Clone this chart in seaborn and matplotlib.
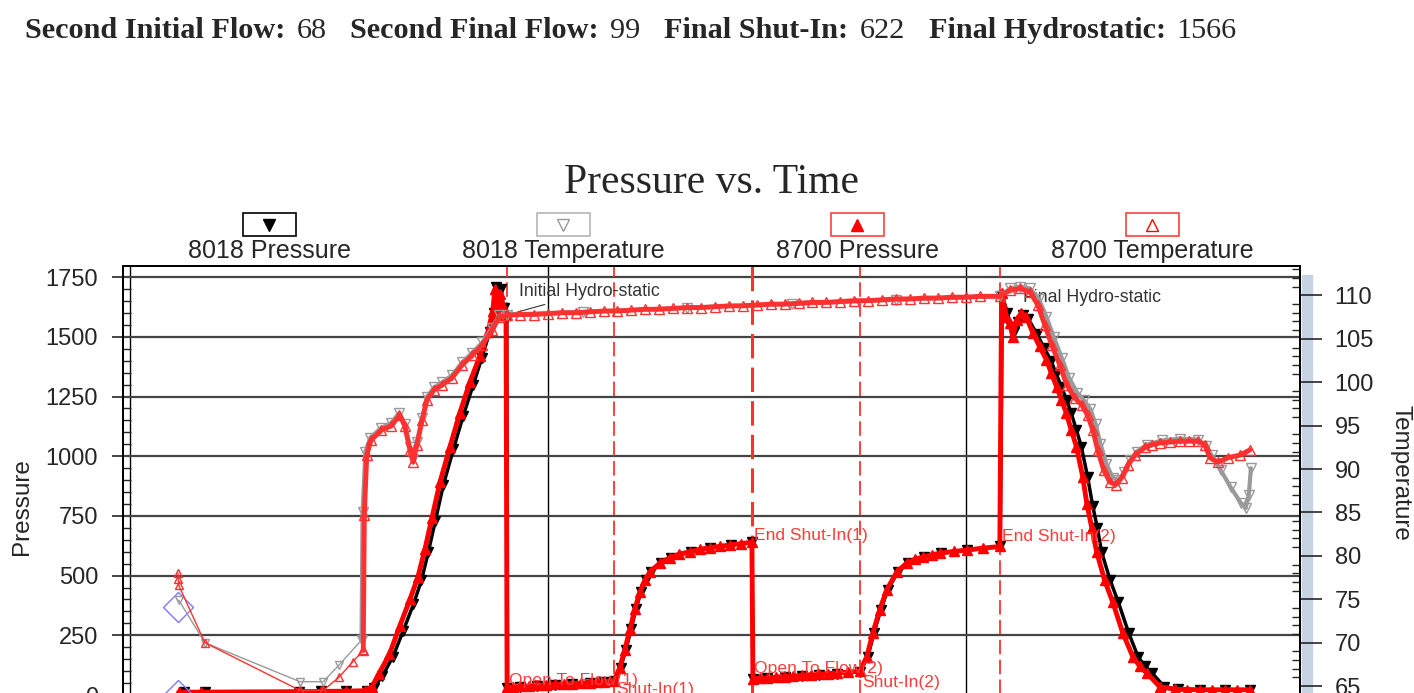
import matplotlib
matplotlib.use("Agg")
import matplotlib.pyplot as plt
from matplotlib.patches import Rectangle
from matplotlib.lines import Line2D
from matplotlib.ticker import MultipleLocator
import pandas as pd
import seaborn as sns

#######################
#        Data         #
#######################
# time in minutes, pressure in psi, temperature in deg F
header_items = [("Second Initial Flow:", 68), ("Second Final Flow:", 99),
                ("Final Shut-In:", 622), ("Final Hydrostatic:", 1566)]

p8700_t = [14.0, 20.5, 48.5, 55.0, 62.0, 67.5,
           69.5, 71.5, 74.5, 77.5, 80.4, 82.7, 84.7, 86.7, 89.0, 91.9, 94.7, 97.6, 100.5, 102.8,
           104.2, 104.8, 105.7, 106.2, 107.0, 108.0,
           108.3, 110.0, 112.0, 114.5, 117.0, 119.5, 122.0, 124.5, 127.0, 129.5, 132.0, 134.0,
           136.0, 139.0,
           140.7, 142.1, 143.6, 145.0, 146.4, 147.9, 149.3, 152.2, 155.0, 157.8, 160.8, 163.6,
           166.5, 169.4, 172.3, 175.5, 178.6,
           178.9, 181.0, 183.0, 185.5, 188.0, 190.5, 193.0, 195.5, 198.0, 200.5, 203.0, 206.3, 209.6,
           211.6, 213.3, 215.3, 217.3, 220.2, 223.1, 225.4, 227.7, 230.2, 232.6, 236.5, 240.3,
           245.0, 249.8,
           250.3, 251.7, 252.7, 253.5, 254.6, 256.0, 257.4, 259.3, 261.2, 263.2, 264.6, 266.1,
           267.5, 268.9, 270.3, 271.8, 273.6, 274.8, 276.2, 277.6, 279.9, 282.2, 285.1, 288.0,
           290.0, 292.0, 295.7, 300.0, 303.6, 307.2, 310.8, 314.4, 318.0, 321.6]
p8700_p = [12, 12, 14, 15, 16, 18,
           35, 90, 170, 290, 400, 495, 610, 740, 890, 1040, 1180, 1310, 1420, 1520,
           1610, 1700, 1590, 1680, 1630, 1590,
           32, 34, 36, 38, 40, 42, 44, 46, 48, 50, 52, 54,
           56, 60,
           115, 190, 275, 360, 430, 480, 515, 553, 575, 590, 600, 610,
           617, 623, 628, 634, 640,
           68, 70, 72, 75, 77, 80, 82, 85, 87, 90, 92, 96, 99,
           160, 258, 356, 440, 515, 553, 568, 578, 587, 594, 601, 607,
           615, 622,
           1683, 1584, 1557, 1500, 1570, 1600, 1583, 1516, 1460, 1403, 1347, 1291,
           1236, 1180, 1110, 1040, 914, 800, 700, 600, 480, 390, 260, 160,
           120, 92, 35, 24, 23, 22, 22, 22, 22, 22]

p8018_t = [15.5, 21.5, 48.5, 55.0, 62.0, 68.0,
           70.0, 72.5, 75.5, 78.5, 81.4, 83.7, 85.7, 87.7, 90.0, 92.9, 95.7, 98.6, 101.0, 103.3,
           104.5, 105.0, 105.9, 106.6, 107.3, 108.2,
           108.4, 112.0, 117.0, 122.0, 127.0, 132.0, 136.0, 139.0,
           140.9, 142.4, 143.9, 145.3, 146.7, 148.2, 149.6, 152.5, 155.3, 161.0, 166.7, 172.5, 178.6,
           178.9, 183.0, 188.0, 193.0, 198.0, 203.0, 209.6,
           211.9, 213.6, 215.6, 217.6, 220.5, 223.4, 228.0, 232.9, 240.5, 249.9,
           250.5, 252.0, 253.0, 254.0, 255.0, 256.5, 258.0, 260.5, 262.5, 264.5, 266.0, 267.5,
           269.0, 270.3, 271.8, 273.2, 275.0, 276.5, 277.8, 279.0, 281.5, 283.8, 286.8, 289.5,
           291.5, 293.5, 297.0, 301.0, 307.2, 314.4, 321.6]
p8018_p = [12, 12, 14, 15, 16, 18,
           30, 80, 160, 270, 380, 480, 600, 730, 880, 1030, 1170, 1300, 1410, 1520,
           1600, 1710, 1620, 1700, 1620, 1585,
           30, 34, 38, 42, 46, 50, 54, 58,
           115, 190, 275, 360, 430, 480, 515, 553, 575, 600, 617, 628, 640,
           66, 70, 75, 80, 85, 90, 97,
           160, 258, 356, 440, 515, 553, 578, 594, 607, 622,
           1670, 1600, 1540, 1520, 1560, 1590, 1575, 1510, 1455, 1400, 1345, 1290,
           1235, 1180, 1110, 1040, 914, 790, 700, 600, 480, 390, 260, 160,
           120, 92, 35, 24, 22, 22, 22]

# temperature, pre-run part (sparse) and in-hole part (dense)
t8700_pre_t = [13.8, 13.9, 14.0, 21.5, 48.8, 55.5, 60.0, 64.0, 67.0]
t8700_pre_v = [78.0, 77.3, 76.6, 70.0, 64.5, 64.5, 66.0, 67.8, 69.1]
t8700_t = [67.0, 67.3, 68.0, 69.2, 72.2, 75.1, 77.4, 78.9, 80.4, 81.3, 82.4, 83.9, 85.3, 87.3,
           89.7, 92.5, 95.4, 98.3, 101.2, 104.0, 106.0, 108.3,
           112.0, 116.0, 120.0, 124.0, 128.0, 132.0, 136.0, 140.0, 144.0, 148.0, 152.0, 156.0,
           160.0, 164.0, 168.0, 172.0, 176.0, 180.0, 184.0, 188.0, 192.0, 196.0, 200.0, 204.0,
           208.0, 212.0, 216.0, 220.0, 224.0, 228.0, 232.0, 236.0, 240.0, 244.0, 249.8,
           252.7, 255.6, 258.4, 260.7, 262.7, 264.7, 267.0, 269.0, 271.3, 273.3, 275.0, 276.5,
           277.9, 279.6, 281.4, 283.1, 284.8, 286.6, 288.6, 291.5, 293.6, 295.8, 298.6, 301.5,
           304.1, 306.7, 308.7, 310.1, 312.4, 315.3, 318.7, 321.6]
t8700_v = [69.1, 84.7, 91.6, 93.3, 94.5, 95.0, 96.2, 95.0, 92.2, 90.8, 92.8, 95.6, 98.0, 99.1,
           99.7, 100.5, 102.0, 103.1, 104.3, 106.0, 107.5, 107.7,
           107.8, 107.8, 107.9, 108.0, 108.0, 108.1, 108.2, 108.2, 108.3, 108.4, 108.4, 108.5,
           108.6, 108.6, 108.7, 108.8, 108.8, 108.9, 109.0, 109.0, 109.1, 109.2, 109.2, 109.3,
           109.4, 109.4, 109.5, 109.6, 109.6, 109.7, 109.7, 109.8, 109.8, 109.9, 109.9,
           110.6, 110.8, 110.4, 108.9, 106.6, 104.3, 102.0, 99.7, 98.2, 97.4, 96.2, 94.5,
           92.2, 89.9, 88.5, 88.2, 89.0, 90.5, 91.6, 92.5, 92.8, 93.0, 93.1, 93.2,
           93.2, 93.2, 92.8, 91.3, 90.8, 91.3, 91.6, 92.2]

t8018_pre_t = [14.0, 21.5, 48.8, 55.5, 60.0, 66.5]
t8018_pre_v = [74.9, 70.0, 65.5, 65.5, 67.4, 70.3]
t8018_t = [66.5, 66.8, 67.6, 69.0, 72.0, 75.0, 77.2, 78.9, 80.4, 81.3, 82.4, 83.9, 85.3, 87.3,
           89.7, 92.5, 95.4, 98.3, 101.2, 104.0, 106.0, 108.3,
           130.0, 160.0, 190.0, 220.0, 249.8,
           252.7, 255.6, 258.4, 261.0, 263.2, 265.3, 267.6, 269.7, 272.0, 274.0, 275.8, 277.3,
           278.7, 280.4, 282.2, 283.8, 285.5, 287.2, 289.1, 292.0, 296.3, 301.5, 306.7, 309.0,
           310.6, 313.2, 316.1, 319.0, 320.4, 321.3, 321.9]
t8018_v = [70.3, 85.0, 92.0, 93.6, 94.7, 95.3, 96.4, 95.2, 92.5, 91.2, 93.1, 95.9, 98.3, 99.4,
           100.0, 100.8, 102.3, 103.4, 104.6, 106.3, 107.7, 107.8,
           108.1, 108.6, 109.0, 109.5, 109.9,
           110.8, 111.0, 110.8, 109.6, 107.5, 105.2, 102.8, 100.5, 98.8, 97.9, 96.9, 95.2,
           92.9, 90.6, 89.0, 88.7, 89.6, 91.0, 92.0, 92.8, 93.3, 93.5, 93.4, 92.6,
           91.6, 89.9, 87.9, 86.1, 85.5, 87.0, 90.1]

marker_t = [13.8, 13.8]
marker_p = [370, 0]

events = [("Open To Flow(1)", 108.3, 28, "bottom"), ("Shut-In(1)", 139.0, 54, "top"),
          ("End Shut-In(1)", 178.6, 670, "center"), ("Open To Flow(2)", 178.6, 113, "center"),
          ("Shut-In(2)", 209.6, 54, "center"), ("End Shut-In(2)", 249.8, 662, "center")]
event_lines = [108.3, 139.0, 178.6, 209.6, 249.8]

legend_items = [("8018 Pressure", "v", "black", "black", "black"),
                ("8018 Temperature", "v", "none", "#9a9a9a", "#b5b5b5"),
                ("8700 Pressure", "^", "red", "red", "#ff4040"),
                ("8700 Temperature", "^", "none", "red", "#ff4040")]

#######################
#       Figure        #
#######################
sns.set_style("ticks")
plt.rcParams["font.family"] = ["Liberation Sans", "DejaVu Sans"]

W, H = 1414, 693
fig = plt.figure(figsize=(W / 100, H / 100), dpi=100)
ax = fig.add_axes([123 / W, 1 - 702 / H, 1177 / W, 436 / H])
ax2 = ax.twinx()


def serie(eje, t, v, color, marker, face, ms, lw, z):
    df = pd.DataFrame({"t": t, "v": v})
    sns.lineplot(data=df, x="t", y="v", ax=eje, sort=False, estimator=None, color=color,
                 lw=lw, marker=marker, markersize=ms, markerfacecolor=face,
                 markeredgecolor=color, markeredgewidth=1.0, zorder=z)


# pressures
serie(ax, p8018_t, p8018_p, "black", "v", "black", 7, 2.5, 5)
serie(ax, p8700_t, p8700_p, "red", "^", "red", 7, 3.5, 6)
ax.plot(marker_t, marker_p, ls="none", marker="D", ms=15, mfc="none", mec="#7b7bff", mew=1.0, zorder=7)

# temperatures
serie(ax2, t8018_pre_t, t8018_pre_v, "#9a9a9a", "v", "none", 6, 1.0, 3)
serie(ax2, t8018_t, t8018_v, "#9a9a9a", "v", "none", 7, 3.0, 3)
serie(ax2, t8700_pre_t, t8700_pre_v, "#ff3030", "^", "none", 6, 1.0, 4)
serie(ax2, t8700_t, t8700_v, "#ff3030", "^", "none", 7, 3.5, 4)

# event lines and labels
for i, te in enumerate(event_lines):
    ax.axvline(te, color="#ff3030", lw=2.2 if i == 2 else 1.3, ls=(0, (8, 3)), zorder=2)
for name, te, pe, va in events:
    ax.text(te + 0.6, pe, name, color="#ff3b3b", fontsize=12.6, va=va, ha="left", zorder=8)

ax.annotate("Initial Hydro-static", xy=(108.0, 1590), xytext=(111.7, 1688), fontsize=12.8,
            color="#333333", va="center", arrowprops=dict(arrowstyle="-", color="#333333", lw=0.8))
ax.text(256.4, 1663, "Final Hydro-static", fontsize=12.8, color="#333333", va="center")

# axes
ax.set_xlim(-2.0, 336.0)
ax.set_ylim(-29.3, 1796.6)
ax2.set_ylim(63.16, 113.39)
ax.xaxis.set_major_locator(MultipleLocator(120))
ax.yaxis.set_major_locator(MultipleLocator(250))
ax.yaxis.set_minor_locator(MultipleLocator(50))
ax2.yaxis.set_major_locator(MultipleLocator(5))
ax2.yaxis.set_minor_locator(MultipleLocator(1))
ax.grid(axis="y", color="#444444", lw=1.6)
ax.grid(axis="x", color="black", lw=1.0)
ax.set_axisbelow(True)
ax.set_xlabel("")
ax.set_ylabel("")
ax2.set_ylabel("")
ax.tick_params(axis="x", labelbottom=False, bottom=False)
ax.tick_params(axis="y", which="major", direction="out", length=8, width=1.2, labelsize=17, pad=10)
ax.tick_params(axis="y", which="minor", direction="in", length=6, width=1.0, left=True)
ax2.tick_params(axis="y", which="major", direction="out", length=16, width=1.2, labelsize=17, pad=9)
ax2.tick_params(axis="y", which="minor", direction="in", length=6, width=1.0, right=True)
for eje in (ax, ax2):
    for s in eje.spines.values():
        s.set_color("black")
        s.set_linewidth(1.4)

ax2.add_patch(Rectangle((1.0017, 0), 0.0085, 0.979, transform=ax2.transAxes, color="#c5d3e2",
                        clip_on=False, zorder=0))

fig.text(22 / W, 1 - 507 / H, "Pressure", rotation=90, ha="center", va="center", fontsize=17.5)
fig.text(1400 / W, 1 - 473 / H, "Temperature", rotation=270, ha="center", va="center", fontsize=17.5)
fig.text(711 / W, 1 - 183 / H, "Pressure vs. Time", family="Liberation Serif", fontsize=30,
         ha="center", va="center")

# legend boxes above the plot
for (name, mk, face, edge, box), cx in zip(legend_items, [269, 563, 857, 1152]):
    fig.add_artist(Rectangle(((cx - 26.5) / W, 1 - 236 / H), 53 / W, 23 / H, fill=False,
                             edgecolor=box, lw=1.2))
    fig.add_artist(Line2D([cx / W], [1 - 224.5 / H], marker=mk, ms=9, ls="none",
                          mfc=face, mec=edge, mew=1.0))
    fig.text(cx / W, 1 - 251 / H, name, ha="center", va="center", fontsize=18)

# header line
renderer = fig.canvas.get_renderer()
x_cursor = 25
for label, value in header_items:
    t1 = fig.text(x_cursor / W, 1 - 38 / H, label, family="Liberation Serif", weight="bold",
                  fontsize=21.8, va="baseline")
    x_cursor += t1.get_window_extent(renderer).width + 11
    t2 = fig.text(x_cursor / W, 1 - 38 / H, str(value), family="Liberation Serif",
                  fontsize=21.8, va="baseline")
    x_cursor += t2.get_window_extent(renderer).width + 24

fig.savefig("out.png", dpi=100)
plt.close(fig)
